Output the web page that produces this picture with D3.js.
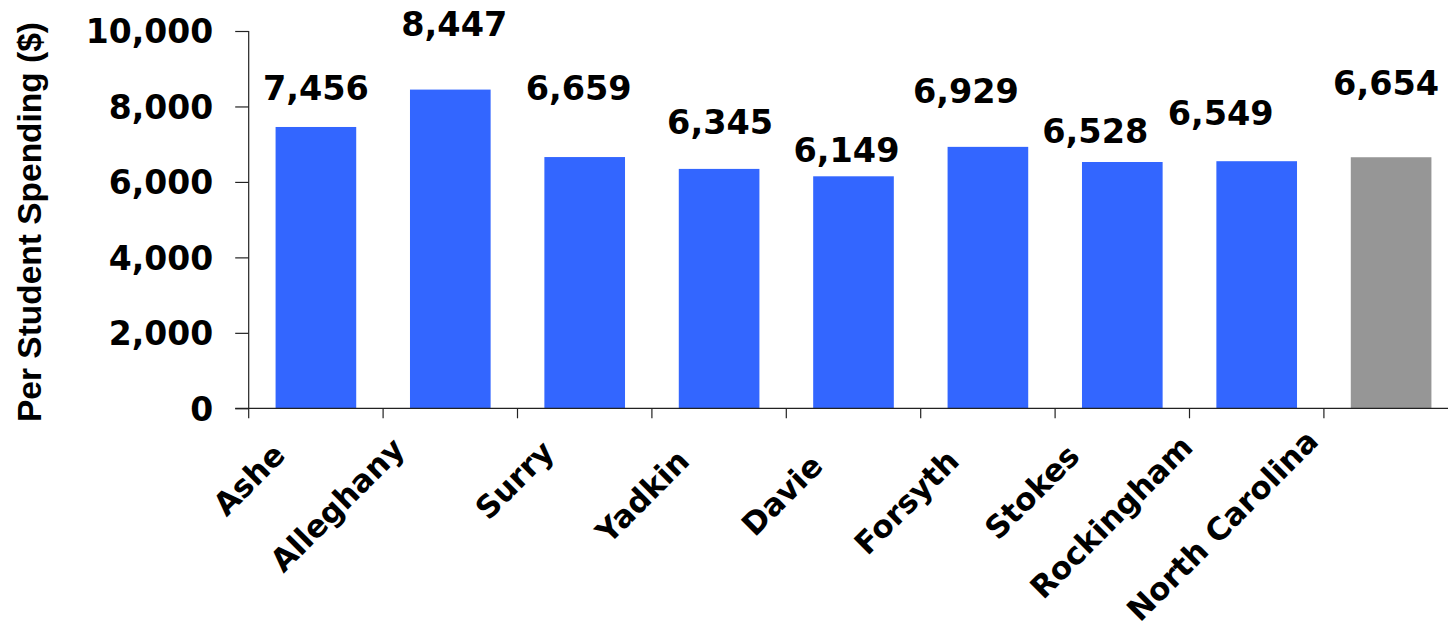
<!DOCTYPE html>
<html>
<head>
<meta charset="utf-8">
<script src="https://cdn.jsdelivr.net/npm/d3@7/dist/d3.min.js"></script>
<style>
  html, body { margin: 0; padding: 0; background: #fff; }
  svg { display: block; }
</style>
</head>
<body>
<svg id="chart" width="1448" height="628"></svg>
<script>
// ---- data ----
const categories = ["Ashe", "Alleghany", "Surry", "Yadkin", "Davie", "Forsyth", "Stokes", "Rockingham", "North Carolina"];
const values = [7456, 8447, 6659, 6345, 6149, 6929, 6528, 6549, 6654];
const stateCategory = "North Carolina";
const yTickValues = [0, 2000, 4000, 6000, 8000, 10000];
const yTitle = "Per Student Spending ($)";

// ---- layout (pixel offsets for hand-placed labels) ----
const valueLabelGap = [27, 54, 57, 35, 14, 44, 19, 36, 62];
const valueLabelDx = [0, 4, -6, 1, -7, -22, -27, -36, -5];
const catLabelDx = [-29, -44, -29, -28, -29, -27, -41, -62, -71];
const catLabelY = [457, 451, 454, 463, 468, 463, 458, 449, 443];

const svg = d3.select("#chart");
const plotLeft = 248.7, plotBottom = 408.3, plotTop = 31;
const step = 134.4;

const x = d3.scaleBand()
  .domain(categories)
  .range([plotLeft, plotLeft + step * categories.length])
  .paddingInner(0.4)
  .paddingOuter(0.2);

const y = d3.scaleLinear().domain([0, 10000]).range([plotBottom, plotTop]);

const fmt = d3.format(",");
const numFont = "'DejaVu Sans', sans-serif";

// bars
svg.append("g").selectAll("rect")
  .data(categories)
  .join("rect")
  .attr("x", d => x(d))
  .attr("width", x.bandwidth())
  .attr("y", (d, i) => y(values[i]))
  .attr("height", (d, i) => y(0) - y(values[i]))
  .attr("fill", d => d === stateCategory ? "#969696" : "#3366FF");

// y axis
const yAxis = d3.axisLeft(y)
  .tickValues(yTickValues)
  .tickSize(13.5)
  .tickPadding(22)
  .tickFormat(fmt);
const gy = svg.append("g").attr("transform", `translate(${plotLeft},0)`).call(yAxis);
gy.select(".domain").remove();
gy.append("line").attr("x1", 0).attr("x2", 0).attr("y1", plotTop).attr("y2", plotBottom + 10)
  .attr("stroke", "#222").attr("stroke-width", 1.2);
gy.selectAll(".tick line").attr("stroke", "#222").attr("stroke-width", 1.2);
gy.selectAll(".tick text")
  .attr("font-family", numFont)
  .attr("font-weight", "bold")
  .attr("font-size", 33)
  .attr("fill", "#000")
  .attr("dy", "0.36em");

// x axis line and ticks at band boundaries
svg.append("line")
  .attr("x1", plotLeft - 13.5).attr("x2", 1448)
  .attr("y1", plotBottom).attr("y2", plotBottom)
  .attr("stroke", "#222").attr("stroke-width", 1.2);
svg.append("g").selectAll("line")
  .data(categories.slice(1))
  .join("line")
  .attr("x1", d => x(d) - x.step() * 0.2)
  .attr("x2", d => x(d) - x.step() * 0.2)
  .attr("y1", plotBottom).attr("y2", plotBottom + 10)
  .attr("stroke", "#222").attr("stroke-width", 1.2);

// category labels rotated
svg.append("g").selectAll("text")
  .data(categories)
  .join("text")
  .attr("transform", (d, i) => `translate(${x(d) + x.bandwidth() / 2 + catLabelDx[i]},${catLabelY[i]}) rotate(-45)`)
  .attr("text-anchor", "end")
  .attr("font-family", numFont)
  .attr("font-weight", "bold")
  .attr("font-size", 31)
  .attr("fill", "#000")
  .text(d => d);

// value labels
svg.append("g").selectAll("text")
  .data(categories)
  .join("text")
  .attr("x", (d, i) => x(d) + x.bandwidth() / 2 + valueLabelDx[i])
  .attr("y", (d, i) => y(values[i]) - valueLabelGap[i])
  .attr("text-anchor", "middle")
  .attr("font-family", numFont)
  .attr("font-weight", "bold")
  .attr("font-size", 33.5)
  .attr("fill", "#000")
  .text((d, i) => fmt(values[i]));

// y title
svg.append("text")
  .attr("transform", `translate(41,222) rotate(-90)`)
  .attr("text-anchor", "middle")
  .attr("font-family", "'Liberation Sans', Arial, sans-serif")
  .attr("font-weight", "bold")
  .attr("font-size", 34)
  .attr("textLength", 400)
  .attr("lengthAdjust", "spacingAndGlyphs")
  .attr("fill", "#000")
  .text(yTitle);
</script>
</body>
</html>
